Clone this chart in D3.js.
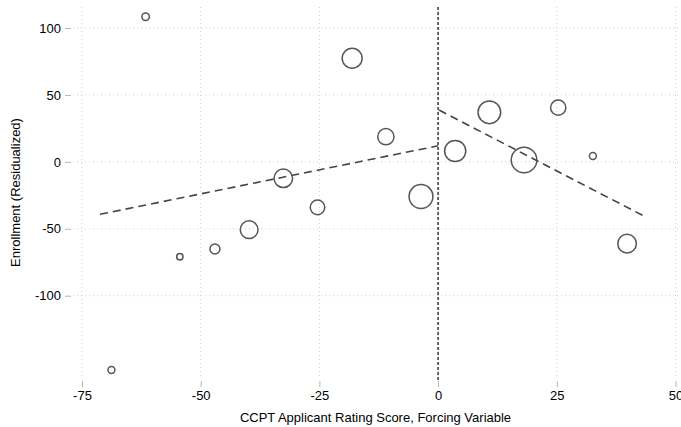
<!DOCTYPE html>
<html>
<head>
<meta charset="utf-8">
<script src="https://cdn.jsdelivr.net/npm/d3@7"></script>
<style>
  body { margin: 0; background: #fff; }
  text { font-family: "Liberation Sans", Arial, Helvetica, sans-serif; }
</style>
</head>
<body>
<div id="chart"></div>
<script>
const width = 681;
const height = 427;

// binned scores (bin centres), residualized enrollment, bin weights
const binScore = [-68.8, -61.6, -54.4, -47.0, -39.8, -32.6, -25.4, -18.1,
  -11.0, -3.6, 3.6, 10.8, 18.1, 25.3, 32.6, 39.8];
const enrollment = [-155.5, 108.4, -70.9, -65.1, -50.7, -12.3, -34.0, 77.4,
  18.8, -25.9, 8.1, 37.0, 1.4, 40.5, 4.4, -61.1];
const binWeight = [12, 14, 10, 25, 79, 86, 53, 100, 66, 142, 112, 128, 164, 58, 12, 86];

// linear fits either side of the cutoff
const fitLeft = [[-71.2, -39.2], [0, 12.0]];
const fitRight = [[0.2, 38.7], [43.2, -40.2]];

const xTicks = [-75, -50, -25, 0, 25, 50];
const yTicks = [-100, -50, 0, 50, 100];
const cutoff = 0;

// plot box
const plotLeft = 73, plotRight = 678, plotTop = 7, plotBottom = 378;

const svg = d3.select("#chart").append("svg")
  .attr("width", width)
  .attr("height", height);

const x = d3.scaleLinear().domain([-75, 50]).range([82, 675.5]);
const y = d3.scaleLinear().domain([-100, 100]).range([295.7, 28]);
const r = d3.scaleSqrt().domain([0, 164]).range([0, 12.8]);

// gridlines
const grid = svg.append("g");
grid.selectAll(".gx")
  .data(xTicks)
  .enter()
  .append("line")
  .attr("x1", d => x(d)).attr("x2", d => x(d))
  .attr("y1", plotTop).attr("y2", plotBottom)
  .attr("stroke", "#cfcfcf")
  .attr("stroke-dasharray", "1,3");
grid.selectAll(".gy")
  .data(yTicks)
  .enter()
  .append("line")
  .attr("x1", plotLeft).attr("x2", plotRight)
  .attr("y1", d => y(d)).attr("y2", d => y(d))
  .attr("stroke", "#cfcfcf")
  .attr("stroke-dasharray", "1,3");

// axes: short grey ticks, no domain line
const fmt = d => d3.format("d")(d).replace("\u2212", "-");
const xAxis = svg.append("g")
  .attr("transform", "translate(0," + (plotBottom + 3) + ")")
  .call(d3.axisBottom(x).tickValues(xTicks).tickSize(6).tickPadding(4).tickFormat(fmt));
const yAxis = svg.append("g")
  .attr("transform", "translate(" + (plotLeft - 2) + ",0)")
  .call(d3.axisLeft(y).tickValues(yTicks).tickSize(6).tickPadding(4).tickFormat(fmt));

[xAxis, yAxis].forEach(function (g) {
  g.select(".domain").remove();
  g.selectAll(".tick line").attr("stroke", "#b5b5b5");
  g.selectAll(".tick text")
    .attr("fill", "#000")
    .style("font-size", "13px")
    .style("font-family", "'Liberation Sans', Arial, sans-serif");
});

// cutoff line
svg.append("line")
  .attr("x1", x(cutoff)).attr("x2", x(cutoff))
  .attr("y1", plotTop).attr("y2", plotBottom + 2)
  .attr("stroke", "#444")
  .attr("stroke-width", 1.6)
  .attr("stroke-dasharray", "3,2");

// fitted lines
const line = d3.line().x(d => x(d[0])).y(d => y(d[1]));
svg.selectAll(".fit")
  .data([fitLeft, fitRight])
  .enter()
  .append("path")
  .attr("d", line)
  .attr("fill", "none")
  .attr("stroke", "#444")
  .attr("stroke-width", 1.6)
  .attr("stroke-dasharray", "8,5");

// binned means
svg.append("g")
  .selectAll("circle")
  .data(binScore)
  .enter()
  .append("circle")
  .attr("cx", d => x(d))
  .attr("cy", (d, i) => y(enrollment[i]))
  .attr("r", (d, i) => r(binWeight[i]))
  .attr("fill", "none")
  .attr("stroke", "#555")
  .attr("stroke-width", 1.5);

// axis titles
svg.append("text")
  .attr("x", (plotLeft + plotRight) / 2)
  .attr("y", 421.5)
  .attr("text-anchor", "middle")
  .style("font-size", "13px")
  .text("CCPT Applicant Rating Score, Forcing Variable");

svg.append("text")
  .attr("transform", "translate(20," + ((plotTop + plotBottom) / 2) + ") rotate(-90)")
  .attr("text-anchor", "middle")
  .style("font-size", "13px")
  .text("Enrollment (Residualized)");
</script>
</body>
</html>
